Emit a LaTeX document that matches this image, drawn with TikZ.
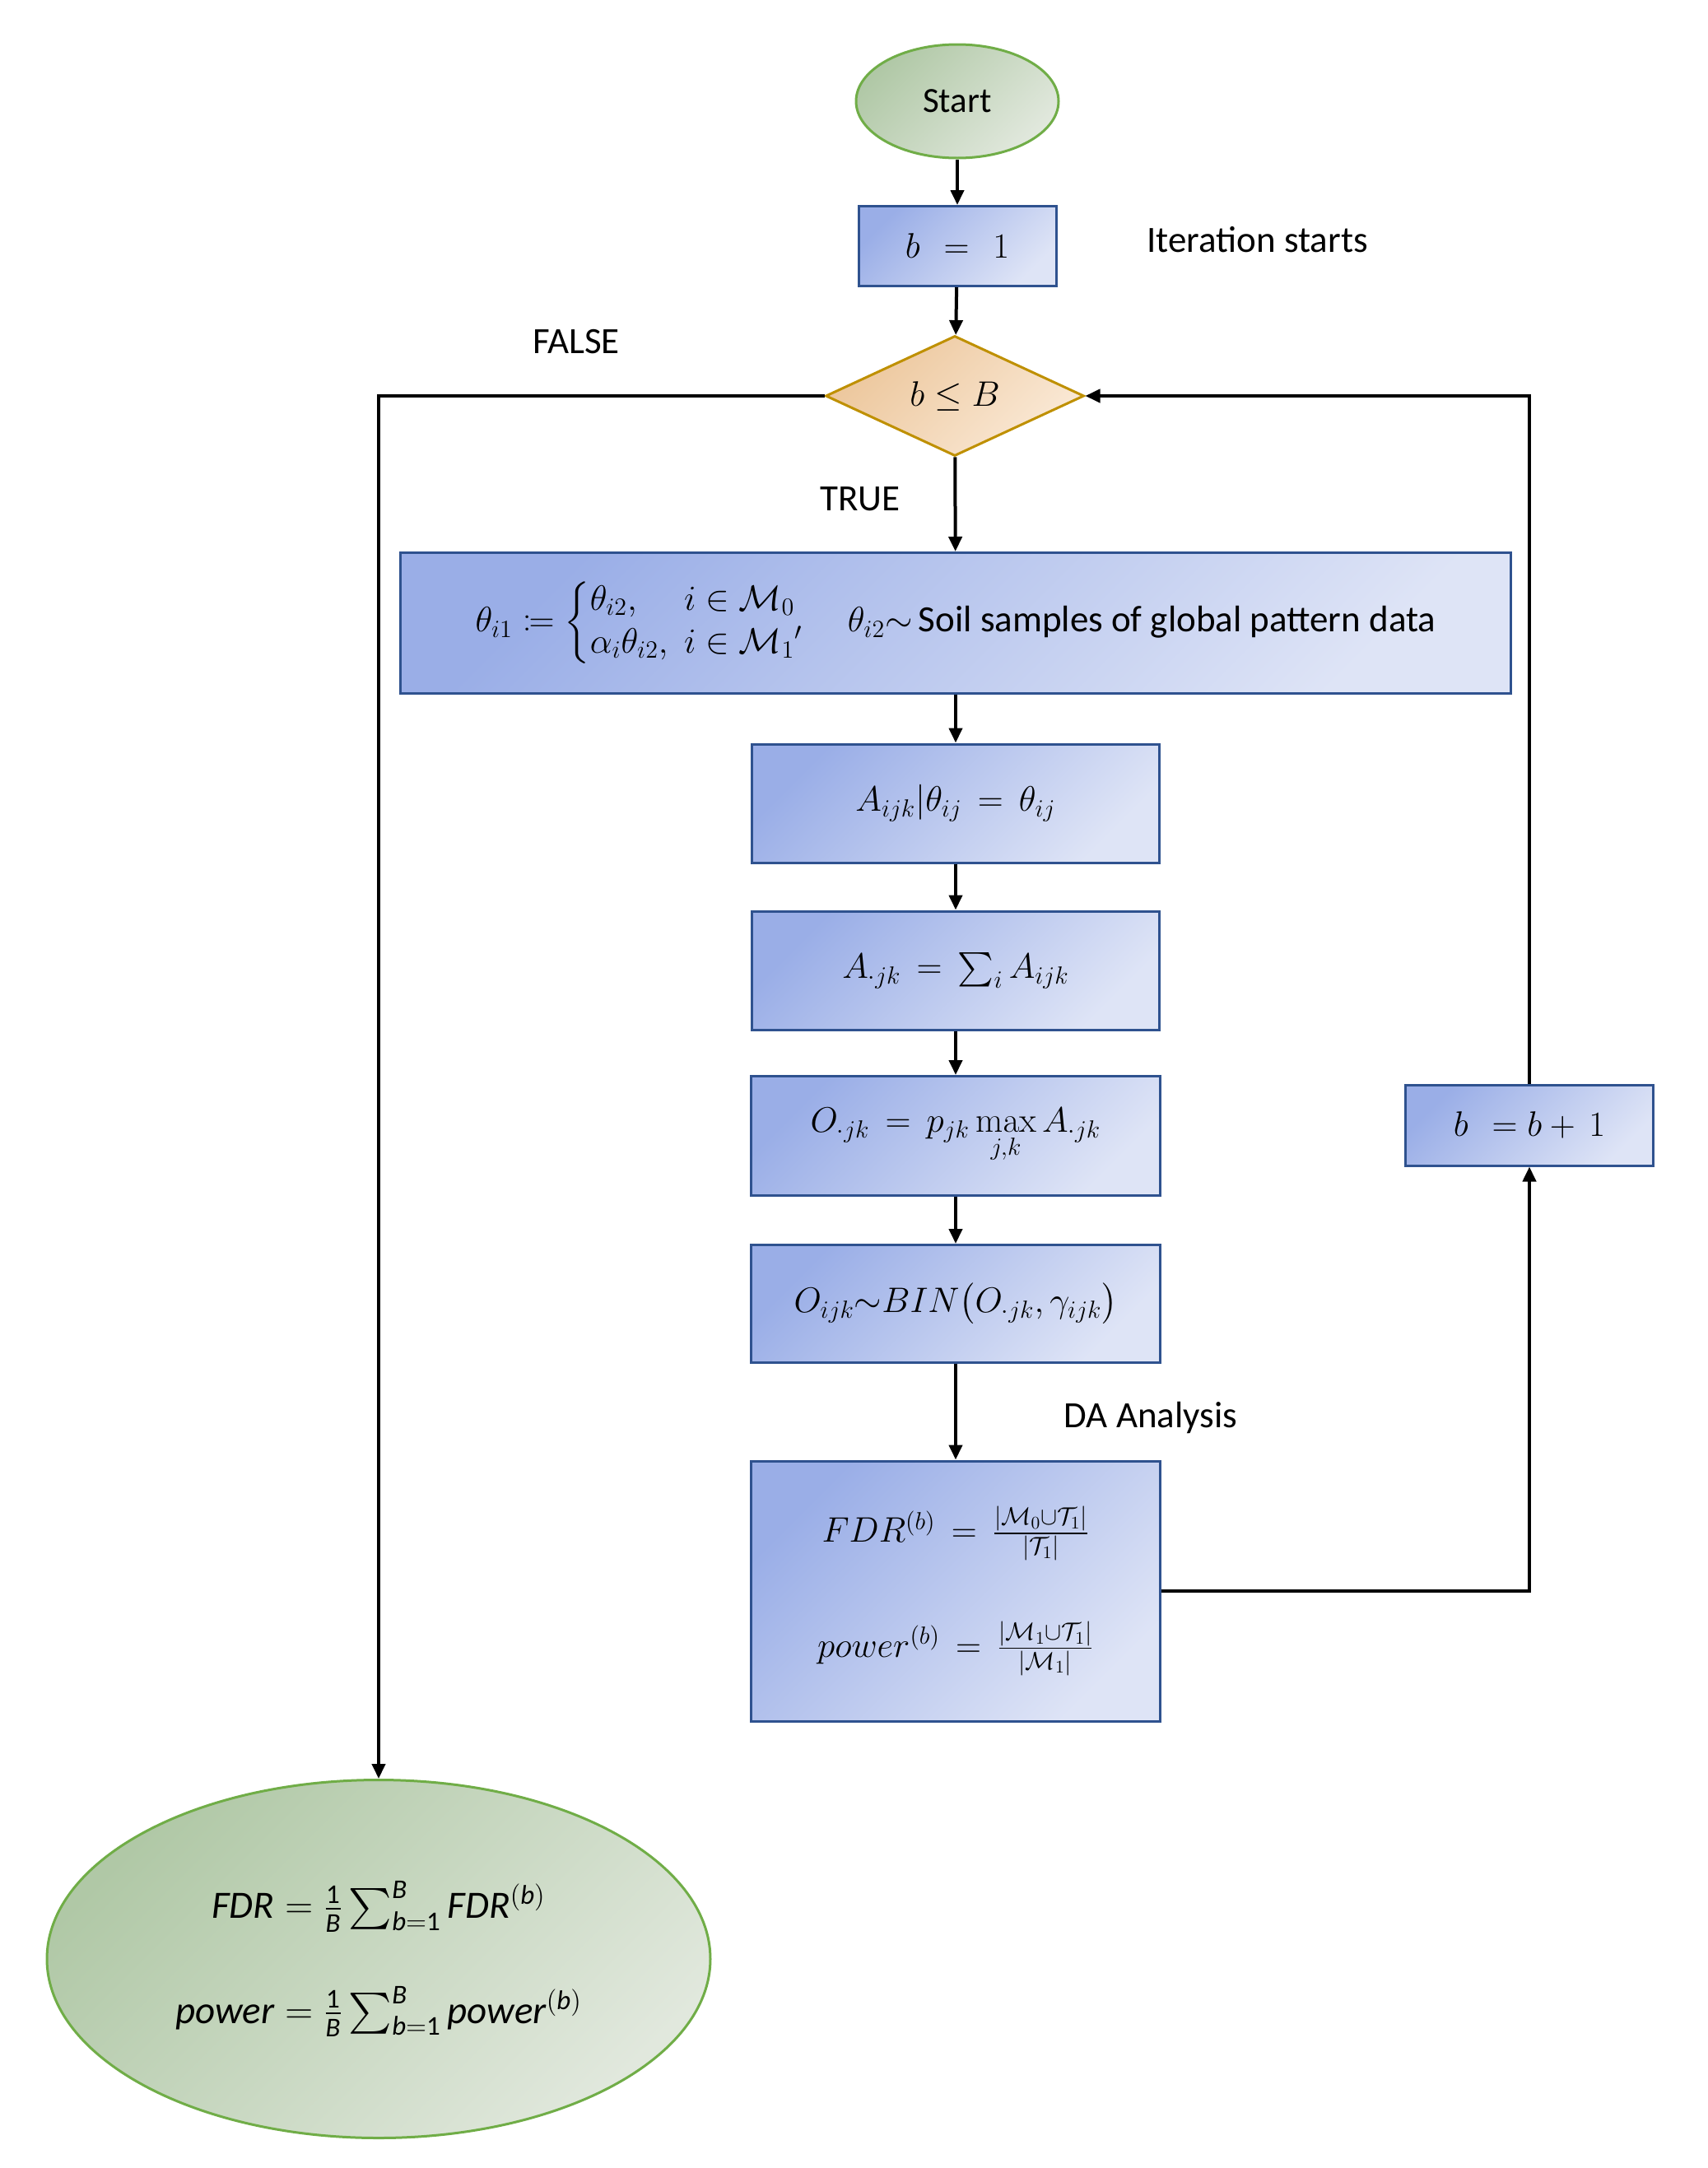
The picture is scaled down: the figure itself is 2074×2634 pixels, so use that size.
\RequirePackage{fix-cm}
\documentclass[tikz,border=0pt]{standalone}
\usepackage{amsmath,mathtools}
\usepackage[no-math]{fontspec}
\setmainfont{Carlito}
\usetikzlibrary{arrows.meta,shapes.geometric}

\definecolor{boxdark}{RGB}{154,174,231}
\definecolor{boxlight}{RGB}{222,228,246}
\definecolor{boxline}{RGB}{47,82,143}
\definecolor{decdark}{RGB}{236,198,155}
\definecolor{declight}{RGB}{250,233,214}
\definecolor{decline}{RGB}{191,144,0}
\definecolor{termdark}{RGB}{176,200,166}
\definecolor{termlight}{RGB}{225,232,221}
\definecolor{termline}{RGB}{112,173,71}

\tikzset{
  every node/.style={font=\fontsize{21.5}{26}\selectfont, inner sep=0pt},
  procbox/.style={rectangle, draw=boxline, line width=1.5pt,
    top color=boxdark, bottom color=boxlight, shading angle=45},
  decbox/.style={diamond, draw=decline, line width=1.5pt, aspect=2.15,
    top color=decdark, bottom color=declight, shading angle=45},
  termbox/.style={ellipse, draw=termline, line width=1.5pt,
    top color=termdark, bottom color=termlight, shading angle=45},
  flow/.style={line width=2pt, -{Triangle[length=9pt,width=8pt]}},
  note/.style={inner sep=0pt, font=\fontsize{22.5}{27}\selectfont}
}

\begin{document}
\begin{tikzpicture}[x=0.5pt, y=-0.5pt]
\useasboundingbox (0,0) rectangle (2074,2634);

% terminals, decision and process steps
\node[termbox, minimum width=123pt, minimum height=69pt] (start) at (1163,123) {Start};
\node[procbox, minimum width=120pt, minimum height=48.5pt] (binit) at (1163,299) {$b\ \,=\,\ 1$};
\node[decbox, minimum width=157pt, minimum height=73pt] (test) at (1160,481) {$b\leq B$};
\node[procbox, minimum width=674.5pt, minimum height=85.5pt] (theta) at (1161,757)
  {$\theta_{i1}\coloneqq\left\{\renewcommand{\arraystretch}{1.0}\begin{array}{@{}l@{\ \ }l@{}}
      \theta_{i2}, & i\in\mathcal{M}_0\\
      \alpha_i\theta_{i2}, & i\in\mathcal{M}_1{}'
    \end{array}\right.$\quad\ $\theta_{i2}{\sim}$\,{\fontsize{22.5}{27}\selectfont Soil samples of global pattern data}};
\node[procbox, minimum width=247.5pt, minimum height=72pt] (acond) at (1161,976)
  {$A_{ijk}|\theta_{ij}\,=\,\theta_{ij}$};
\node[procbox, minimum width=247.5pt, minimum height=72pt] (asum) at (1161,1179)
  {$A_{\cdot jk}\,=\,\sum_i A_{ijk}$};
\node[procbox, minimum width=248.5pt, minimum height=72.5pt] (omax) at (1161,1380)
  {$O_{\cdot jk}\,=\,p_{jk}\max\limits_{j,k}A_{\cdot jk}$};
\node[procbox, minimum width=248.5pt, minimum height=71.5pt] (obin) at (1161,1584)
  {$O_{ijk}{\sim}BIN\bigl(O_{\cdot jk},\gamma_{ijk}\bigr)$};
\node[procbox, minimum width=248.5pt, minimum height=158pt, align=center] (rates) at (1161,1933)
  {$FDR^{(b)}\,=\,\frac{|\mathcal{M}_0\cup\mathcal{T}_1|}{|\mathcal{T}_1|}$\\[36pt]
   $power^{(b)}\,=\,\frac{|\mathcal{M}_1\cup\mathcal{T}_1|}{|\mathcal{M}_1|}$};
\node[procbox, minimum width=150.5pt, minimum height=49pt] (bnext) at (1858,1367)
  {$b\ \,=b+\,1$};
\node[termbox, minimum width=403pt, minimum height=217.5pt, align=center,
      font=\fontsize{23.5}{28}\selectfont] (result) at (460,2380)
  {$\textit{FDR}=\frac{\text{1}}{\textit{B}}\sum_{\textit{b}=\text{1}}^{\textit{B}}\textit{FDR}^{(\textit{b})}$\\[32pt]
   $\textit{power}=\frac{\text{1}}{\textit{B}}\sum_{\textit{b}=\text{1}}^{\textit{B}}\textit{power}^{(\textit{b})}$};

% free labels
\node[note, anchor=west] (itlabel) at (1393,291) {Iteration starts};
\node[note] (falselabel) at (700,415) {FALSE};
\node[note] (truelabel) at (1045,606) {TRUE};
\node[note] (dalabel) at (1398,1722) {DA Analysis};

% connectors
\draw[flow] (start) -- (binit);
\draw[flow] (binit) -- (test);
\draw[flow] (test) -- (theta);
\draw[flow] (theta) -- (acond);
\draw[flow] (acond) -- (asum);
\draw[flow] (asum) -- (omax);
\draw[flow] (omax) -- (obin);
\draw[flow] (obin) -- (rates);
\draw[flow] (test.west) -| (result.north);
\draw[flow] (rates.east) -| (bnext.south);
\draw[flow] (bnext.north) |- (test.east);
\end{tikzpicture}
\end{document}
